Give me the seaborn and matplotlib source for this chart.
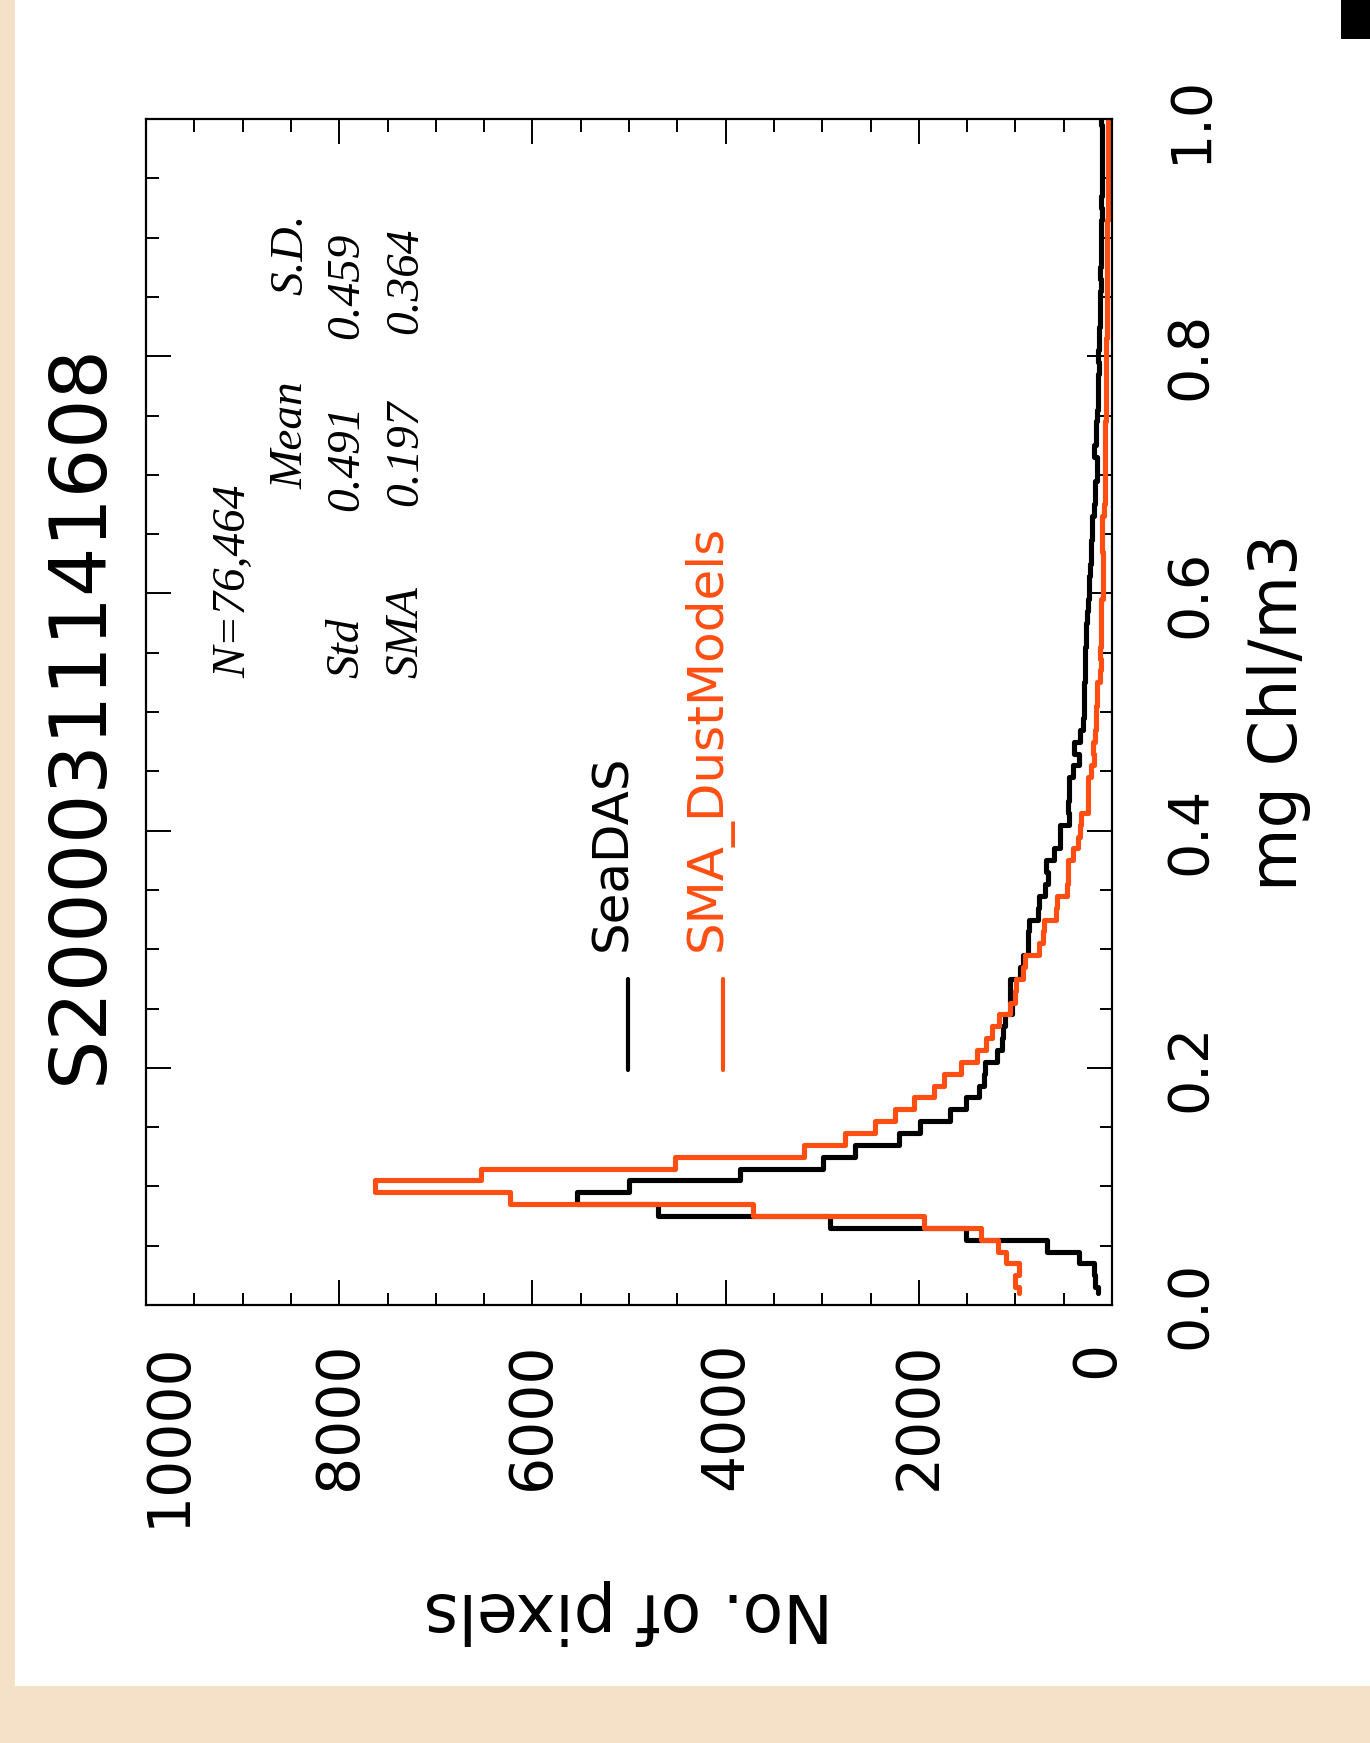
import numpy as np
import pandas as pd
import matplotlib
matplotlib.use("Agg")
import matplotlib.pyplot as plt
import matplotlib.transforms as mtransforms
import seaborn as sns
from matplotlib.patches import Rectangle
from matplotlib.lines import Line2D
from matplotlib.ticker import MultipleLocator, FormatStrFormatter

# chlorophyll bin centres (mg Chl/m3) and pixel counts
chl = np.round(np.arange(1, 101) / 100, 2)

seadas = [150, 180, 190, 346, 670, 1513, 2923, 4699, 5535, 4996,
          3846, 2993, 2662, 2209, 1990, 1675, 1513, 1373, 1320, 1310,
          1190, 1140, 1130, 1110, 1040, 1060, 1055, 955, 925, 870,
          865, 860, 765, 760, 690, 660, 680, 600, 540, 535,
          450, 455, 448, 450, 400, 345, 390, 330, 300, 295,
          290, 290, 280, 275, 280, 265, 268, 262, 245, 240,
          238, 225, 222, 220, 205, 208, 185, 180, 178, 155,
          158, 185, 170, 165, 160, 150, 145, 148, 135, 140,
          130, 132, 125, 128, 120, 118, 122, 115, 112, 118,
          110, 108, 112, 105, 108, 104, 106, 102, 100, 110]

sma_dust = [960, 1000, 960, 1095, 1182, 1356, 1948, 3715, 6232, 7625,
            6528, 4525, 3184, 2766, 2453, 2244, 2052, 1843, 1739, 1560,
            1400, 1300, 1240, 1170, 1060, 1000, 990, 920, 900, 760,
            710, 700, 580, 570, 470, 460, 455, 405, 356, 330,
            325, 250, 248, 245, 220, 190, 200, 172, 170, 168,
            160, 152, 120, 118, 120, 116, 118, 115, 112, 92,
            90, 92, 95, 100, 102, 100, 78, 75, 74, 72,
            74, 73, 70, 68, 66, 65, 62, 64, 60, 58,
            60, 56, 55, 54, 52, 53, 50, 50, 48, 49,
            47, 46, 45, 45, 44, 43, 42, 42, 41, 40]

stats_rows = ["Std", "SMA"]
stats_mean = ["0.491", "0.197"]
stats_sd = ["0.459", "0.364"]

RED = "#FF4E12"
BEIGE = "#F5E1C8"

sns.set_style("white")
plt.rcParams["font.family"] = ["DejaVu Sans"]
plt.rcParams["text.color"] = "black"
plt.rcParams["xtick.color"] = "black"
plt.rcParams["ytick.color"] = "black"

W, H = 1370, 1743
fig = plt.figure(figsize=(W / 100, H / 100), dpi=100, facecolor=BEIGE)
fig.patches.append(Rectangle((15 / W, 57 / H), 1 - 15 / W, 1 - 57 / H,
                             transform=fig.transFigure, facecolor="white",
                             edgecolor="none", zorder=-5))
fig.patches.append(Rectangle((1341 / W, 1 - 39 / H), 29 / W, 39 / H,
                             transform=fig.transFigure, facecolor="black",
                             edgecolor="none", zorder=-4))


def ftext(x, y, s, **kw):
    return fig.text(x / W, 1 - y / H, s, **kw)


ax = fig.add_axes([146 / W, 1 - 1305 / H, 966 / W, 1186 / H])
ax.set_facecolor("white")

df = pd.DataFrame({"chl": chl, "seadas": seadas, "sma": sma_dust})

# psym=10 style steps: transitions half way between bin centres
edges = [0.01] + [(k + 0.5) / 100 for k in range(1, 100)] + [1.0]
sns.histplot(data=df, y="chl", weights="seadas", bins=edges, element="step",
             fill=False, color="black", linewidth=3.7, ax=ax)
sns.histplot(data=df, y="chl", weights="sma", bins=edges, element="step",
             fill=False, color=RED, linewidth=3.7, ax=ax)

ax.set_xlim(10000, 0)
ax.set_ylim(0, 1)
ax.set_xlabel("")
ax.set_ylabel("")

ax.set_xticks(np.arange(0, 10001, 2000))
ax.xaxis.set_minor_locator(MultipleLocator(500))
ax.set_yticks(np.arange(0, 1.01, 0.2))
ax.yaxis.set_minor_locator(MultipleLocator(0.05))
ax.yaxis.set_major_formatter(FormatStrFormatter("%.1f"))

ax.tick_params(which="both", direction="in", top=True, bottom=True,
               left=True, right=True, labelleft=False, labelright=True,
               labelbottom=True, width=1.4, color="black")
ax.tick_params(which="major", length=18)
ax.tick_params(which="minor", length=9)
ax.tick_params(axis="x", labelrotation=90, labelsize=42, pad=26)
ax.tick_params(axis="y", labelrotation=90, labelsize=40, pad=37)
for lab in ax.get_yticklabels():
    lab.set_va("center")
for sp in ax.spines.values():
    sp.set_linewidth(1.6)
    sp.set_color("black")

# end labels of the count axis sit a little inside, as in the original
xlabs = ax.get_xticklabels()
xlabs[-1].set_transform(xlabs[-1].get_transform() +
                        mtransforms.ScaledTranslation(0.22, 0, fig.dpi_scale_trans))
xlabs[0].set_transform(xlabs[0].get_transform() +
                       mtransforms.ScaledTranslation(-0.15, 0, fig.dpi_scale_trans))

# rotated titles / labels
ftext(80, 714, "S20000311141608", rotation=90, ha="center", va="center",
      fontsize=56)
ftext(1279, 712, "mg Chl/m3", rotation=90, ha="center", va="center",
      fontsize=47)
ftext(628, 1612, "No. of pixels", rotation=180, ha="center", va="center",
      fontsize=48)

# legend
fig.add_artist(Line2D([628 / W] * 2, [1 - 979 / H, 1 - 1070 / H],
                      color="black", lw=3))
fig.add_artist(Line2D([723 / W] * 2, [1 - 979 / H, 1 - 1070 / H],
                      color=RED, lw=3))
ftext(612, 951, "SeaDAS", rotation=90, ha="center", va="bottom",
      fontsize=36, color="black")
ftext(708, 951, "SMA_DustModels", rotation=90, ha="center", va="bottom",
      fontsize=36, color=RED)

# statistics block
st = dict(rotation=90, ha="center", va="bottom", fontsize=34,
          family="Liberation Serif", style="italic")
ftext(234, 678, "N=76,464", **st)
ftext(291, 489, "Mean", **st)
ftext(291, 295, "S.D.", **st)
for xpos, row, m, s, ym, ys in zip([347, 406], stats_rows, stats_mean,
                                   stats_sd, [511, 506], [339, 334]):
    ftext(xpos, 678, row, **st)
    ftext(xpos, ym, m, **st)
    ftext(xpos, ys, s, **st)

fig.savefig("out.png", dpi=100, facecolor=fig.get_facecolor())
